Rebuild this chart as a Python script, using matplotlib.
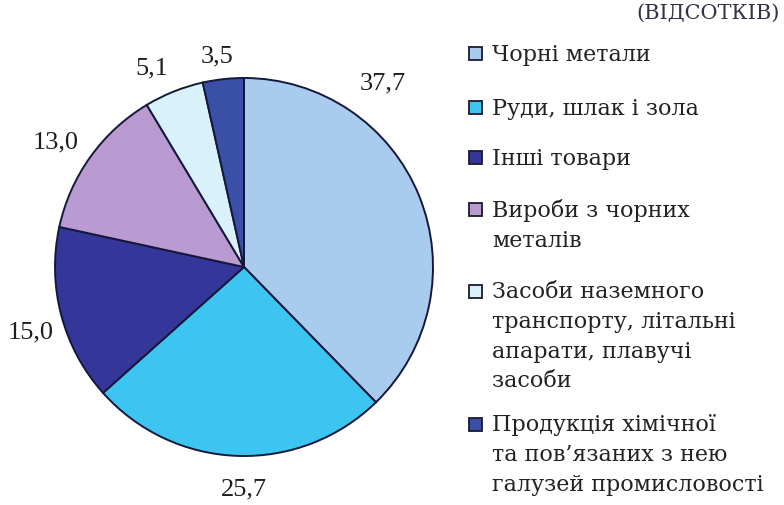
import matplotlib
matplotlib.use("Agg")
import matplotlib.pyplot as plt
import numpy as np
from matplotlib.patches import Rectangle

categories = [
    "Чорні метали",
    "Руди, шлак і зола",
    "Інші товари",
    "Вироби з чорних\nметалів",
    "Засоби наземного\nтранспорту, літальні\nапарати, плавучі\nзасоби",
    "Продукція хімічної\nта пов’язаних з нею\nгалузей промисловості",
]
values = [37.7, 25.7, 15.0, 13.0, 5.1, 3.5]
value_labels = ["37,7", "25,7", "15,0", "13,0", "5,1", "3,5"]
colors = ["#a9cbee", "#3cc5f0", "#35369a", "#b99bd2", "#d9f1fb", "#3a50a6"]
title = "(ВІДСОТКІВ)"

W, H = 784, 506
fig = plt.figure(figsize=(W / 100, H / 100), dpi=100)
fig.patch.set_facecolor("white")

cx, cy, r = 244, 268, 189
ax = fig.add_axes([(cx - r) / W, (H - cy - r) / H, 2 * r / W, 2 * r / H])
wedges, _ = ax.pie(values, colors=colors, startangle=90, counterclock=False,
                   radius=1.0,
                   wedgeprops=dict(edgecolor="#15183a", linewidth=1.4))
ax.set_xlim(-1, 1)
ax.set_ylim(-1, 1)
ax.set_aspect("equal")
ax.axis("off")

# value labels placed around slice mid-angles (angle shift, radial distance)
label_adjust = [(31, 1.22), (2, 1.17), (2, 1.18), (2, 1.20), (3, 1.16), (1, 1.13)]
for w, lab, (dang, dist) in zip(wedges, value_labels, label_adjust):
    mid = np.deg2rad((w.theta1 + w.theta2) / 2 + dang)
    ax.text(dist * np.cos(mid), dist * np.sin(mid), lab, ha="center", va="center",
            fontsize=19, family="Liberation Serif", color="#1e1e1e", clip_on=False)

# title (at top right)
fig.text(780 / W, 1 - 13 / H, title, ha="right", va="center", fontsize=15,
         family="DejaVu Serif", color="#333344")

# legend
line_centers = [54, 108, 158, 210, 292, 425]
fs = 16
for yc, lab, col in zip(line_centers, categories, colors):
    sq = 13
    fig.patches.append(Rectangle((469 / W, 1 - (yc + sq / 2) / H), sq / W, sq / H,
                                 transform=fig.transFigure, facecolor=col,
                                 edgecolor="#1a1a2a", linewidth=1.3))
    fig.text(492 / W, 1 - (yc - 10.5) / H, lab, ha="left", va="top", fontsize=fs,
             family="DejaVu Serif", color="#222222", linespacing=1.45)

fig.savefig("out.png", dpi=100, facecolor="white")
